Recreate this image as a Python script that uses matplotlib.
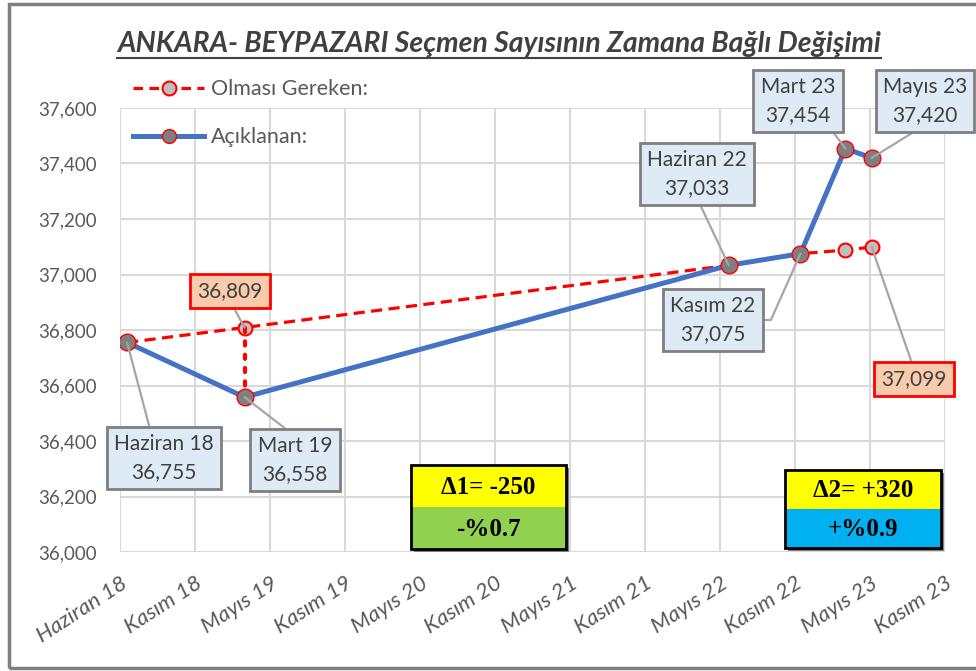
import numpy as np
import pandas as pd
import matplotlib
matplotlib.use("Agg")
import matplotlib.pyplot as plt
import matplotlib.patches as mpatches
from matplotlib.lines import Line2D

# ── data ─────────────────────────────────────────────────────────
actual_dates = ["2018-06-18", "2019-03-27", "2022-06-01", "2022-11-20", "2023-03-08", "2023-05-10"]
actual_values = [36755, 36558, 37033, 37075, 37454, 37420]
actual_labels = ["Haziran 18", "Mart 19", "Haziran 22", "Kasım 22", "Mart 23", "Mayıs 23"]

expected_dates = ["2018-06-18", "2019-03-27", "2022-06-01", "2022-11-20", "2023-03-08", "2023-05-10"]
expected_values = [36755, 36809, 37033, 37075, 37088, 37099]

tick_start = "2018-06-01"
tick_step_days = 180
tick_labels = ["Haziran 18", "Kasım 18", "Mayıs 19", "Kasım 19", "Mayıs 20", "Kasım 20",
               "Mayıs 21", "Kasım 21", "Mayıs 22", "Kasım 22", "Mayıs 23", "Kasım 23"]

delta_top = ["Δ1= -250", "Δ2= +320"]
delta_bottom = ["-%0.7", "+%0.9"]

title = "ANKARA- BEYPAZARI Seçmen Sayısının Zamana Bağlı Değişimi"

# ── styling ──────────────────────────────────────────────────────
W, H = 976, 671
BLUE = "#4472C4"
RED = "#FF0000"
GRAY_TXT = "#595959"
BOX_BLUE = "#DEEBF7"
BOX_SALMON = "#F8CBAD"
plt.rcParams["font.family"] = ["Lato", "DejaVu Sans"]

fig = plt.figure(figsize=(W / 100, H / 100), dpi=100)


def fx(x):
    return x / W


def fy(y):
    return 1 - y / H


ax = fig.add_axes([fx(120), fy(552), fx(945) - fx(120), fy(108) - fy(552)])

ad = pd.to_datetime(actual_dates)
ed = pd.to_datetime(expected_dates)
t0 = pd.Timestamp(tick_start)
ticks = [t0 + pd.Timedelta(days=tick_step_days * i) for i in range(len(tick_labels))]

# expected (dashed) series
ax.plot(ed, expected_values, color=RED, linestyle=(0, (3.5, 2)), linewidth=2.3,
        marker="o", markersize=10, markerfacecolor="#BFBFBF", markeredgecolor=RED,
        markeredgewidth=1.5, zorder=3)
# vertical gap at Mart 19
ax.plot([ed[1], ad[1]], [expected_values[1], actual_values[1]], color=RED,
        linestyle=(0, (1, 2.2)), linewidth=3, dash_capstyle="round", zorder=3)
# actual series
ax.plot(ad, actual_values, color=BLUE, linewidth=3.6, marker="o", markersize=12,
        markerfacecolor="#7F7F7F", markeredgecolor=RED, markeredgewidth=1.0, zorder=4)

ax.set_xlim(ticks[0], ticks[-1])
ax.set_ylim(36000, 37600)
ax.set_xticks(ticks)
ax.set_xticklabels(tick_labels, rotation=33, ha="right", rotation_mode="anchor",
                   fontsize=16, color=GRAY_TXT, style="italic")
ax.set_yticks(np.arange(36000, 37601, 200))
ax.yaxis.set_major_formatter(matplotlib.ticker.FuncFormatter(lambda v, p: f"{int(v):,}"))
ax.tick_params(axis="y", labelsize=13.5, labelcolor=GRAY_TXT, length=0, pad=17)
ax.tick_params(axis="x", length=0, pad=15)
ax.grid(True, color="#D9D9D9", linewidth=1.5)
ax.set_axisbelow(True)
for s in ax.spines.values():
    s.set_visible(False)

# ── callouts ─────────────────────────────────────────────────────
def callout(x, y, text, box_xy, relpos, face, edge, conn="arc3"):
    ax.annotate(text, xy=(x, y), xytext=(box_xy[0], H - box_xy[1]), textcoords="figure pixels",
                ha="center", va="center", fontsize=15, color="#404040", linespacing=1.5,
                bbox=dict(boxstyle="square,pad=0.35", fc=face, ec=edge, lw=2),
                arrowprops=dict(arrowstyle="-", color="#A6A6A6", lw=1.6, relpos=relpos,
                                shrinkA=0, shrinkB=0, connectionstyle=conn),
                annotation_clip=False, zorder=6)


box_pos = [(164, 458), (295, 460), (697, 174), (713, 320), (798, 101), (925, 101)]
rel_pos = [(0.5, 0), (0.5, 1), (0.5, 0), (1, 0.5), (0.9, 0), (0.5, 0)]
conns = ["arc3", "arc3", "arc3", "angle,angleA=0,angleB=66,rad=0", "arc3", "arc3"]
for i in range(len(actual_values)):
    txt = f"{actual_labels[i]}\n{actual_values[i]:,}"
    callout(ad[i], actual_values[i], txt, box_pos[i], rel_pos[i], BOX_BLUE, "#7F7F7F", conns[i])

callout(ed[1], expected_values[1], f"{expected_values[1]:,}", (230, 291), (0.5, 0),
        BOX_SALMON, RED)
callout(ed[-1], expected_values[-1], f"{expected_values[-1]:,}", (914, 379), (0.5, 1),
        BOX_SALMON, RED)

# ── legend ───────────────────────────────────────────────────────
handles = [
    Line2D([], [], color=RED, linestyle=(0, (3, 2)), linewidth=2.3, marker="o", markersize=10,
           markerfacecolor="#BFBFBF", markeredgecolor=RED, markeredgewidth=1.5),
    Line2D([], [], color=BLUE, linewidth=3.6, marker="o", markersize=10,
           markerfacecolor="#7F7F7F", markeredgecolor=RED, markeredgewidth=1.0),
]
fig.legend(handles, ["Olması Gereken:", "Açıklanan:"], loc="upper left",
           bbox_to_anchor=(fx(114), fy(60)), frameon=False, fontsize=15.5,
           labelcolor=GRAY_TXT, handlelength=3.3, handletextpad=0.3, labelspacing=1.3)

# ── delta boxes ──────────────────────────────────────────────────
delta_boxes = [(411, 465, 566, 549, "#92D050"), (785, 470, 941, 548, "#00B0F0")]
for (x0, y0, x1, y1, col), top, bot in zip(delta_boxes, delta_top, delta_bottom):
    ym = (y0 + y1) / 2
    fig.add_artist(mpatches.Rectangle((fx(x0 + 3), fy(y1 + 3)), fx(x1 - x0), fy(y0) - fy(y1),
                                      fc="#7F7F7F", ec="none", zorder=7))
    fig.add_artist(mpatches.Rectangle((fx(x0), fy(ym)), fx(x1 - x0), fy(y0) - fy(ym),
                                      fc="#FFFF00", ec="none", zorder=8))
    fig.add_artist(mpatches.Rectangle((fx(x0), fy(y1)), fx(x1 - x0), fy(ym) - fy(y1),
                                      fc=col, ec="none", zorder=8))
    fig.add_artist(mpatches.Rectangle((fx(x0), fy(y1)), fx(x1 - x0), fy(y0) - fy(y1),
                                      fc="none", ec="black", lw=2, zorder=9))
    fig.text(fx((x0 + x1) / 2), fy((y0 + ym) / 2 + 1), top, ha="center", va="center",
             fontsize=18, fontweight="bold", family=["Liberation Serif", "DejaVu Serif"], zorder=10)
    fig.text(fx((x0 + x1) / 2), fy((ym + y1) / 2 + 1), bot, ha="center", va="center",
             fontsize=18, fontweight="bold", family=["Liberation Serif", "DejaVu Serif"], zorder=10)

# ── title with underline ─────────────────────────────────────────
t = fig.text(fx(499), fy(44), title, ha="center", va="center", fontsize=20.4,
             fontweight="bold", style="italic", color="#404040")
fig.canvas.draw()
bb = t.get_window_extent()
fig.add_artist(Line2D([bb.x0 / W, bb.x1 / W], [(bb.y0 - 1) / H] * 2, color="#404040", lw=1.5))

# outer frame
fig.add_artist(mpatches.Rectangle((fx(9), fy(668)), fx(1000), fy(4) - fy(668), fc="none",
                                  ec="#7F7F7F", lw=2.5, zorder=0))

fig.savefig("out.png", dpi=100)
